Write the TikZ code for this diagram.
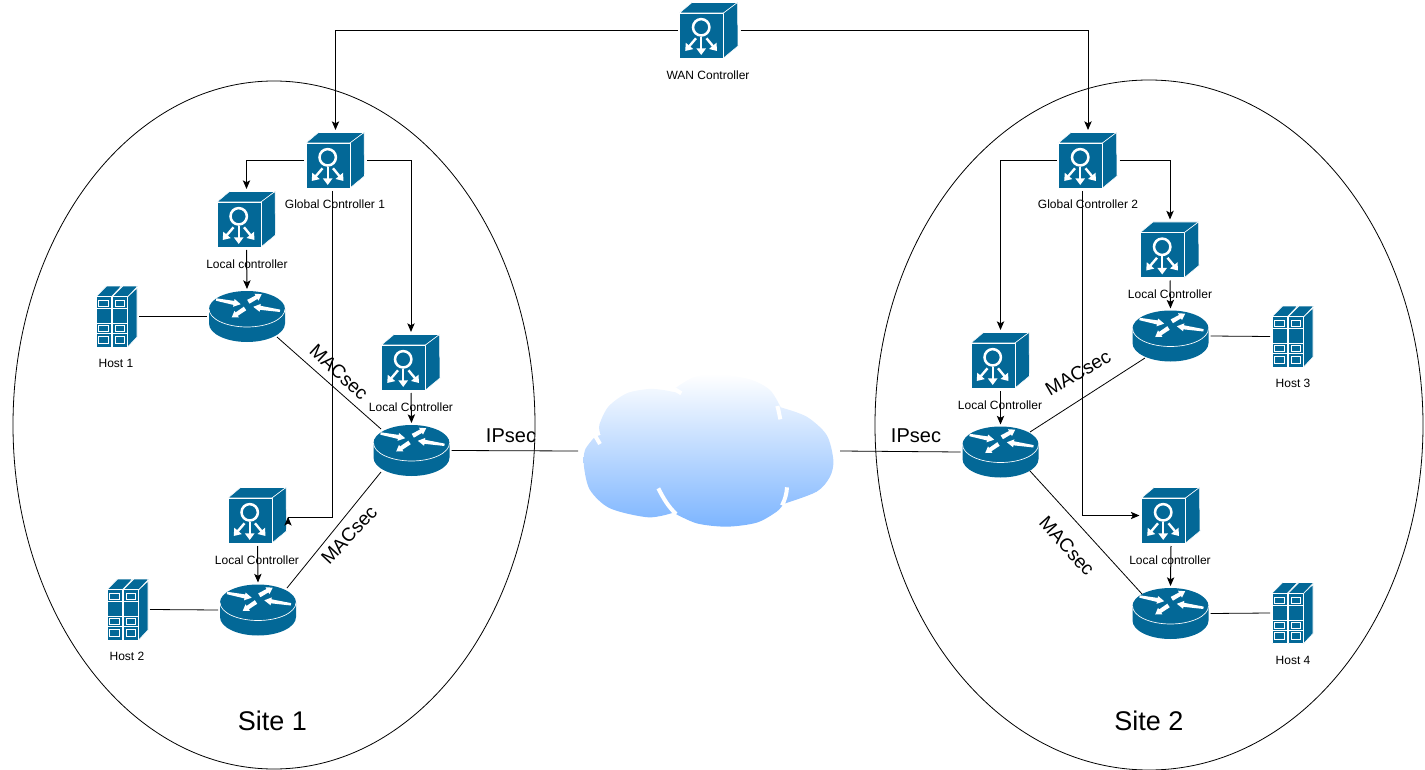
\documentclass[tikz,border=0pt]{standalone}
\usepackage{fontspec}
\setmainfont{Liberation Sans}
\usepackage{tikz}
\usetikzlibrary{calc,arrows.meta}

\definecolor{ciscoblue}{HTML}{036897}
\definecolor{cloudblue}{HTML}{7DB5FF}

\tikzset{
    link/.style={line width=0.75pt,-{Stealth[length=6.5pt,width=5.5pt,inset=1.5pt]}},
    wire/.style={line width=0.6pt},
    face/.style={fill=ciscoblue,draw=white,line width=0.4pt,line join=round},
    glyph/.style={draw=white,line width=1.8pt,-{Triangle[length=5pt,width=7pt]}},
    ctrlbox/.style={minimum width=44.25pt,minimum height=42.75pt,inner sep=0pt,outer sep=1.5pt},
    routerbox/.style={minimum width=57pt,minimum height=38.25pt,inner sep=0pt,outer sep=1.5pt},
    hostbox/.style={minimum width=30.75pt,minimum height=45.75pt,inner sep=0pt,outer sep=1.5pt},
    cloudbox/.style={minimum width=196.5pt,minimum height=114pt,inner sep=0pt,outer sep=0pt},
    small/.style={font=\fontsize{9}{11}\selectfont,inner sep=0pt},
    big/.style={font=\fontsize{15}{18}\selectfont,inner sep=0pt},
    maclabel/.style={font=\fontsize{14.25}{17}\selectfont,inner sep=0pt},
    sitename/.style={font=\fontsize{20.25}{24}\selectfont,inner sep=0pt}
}

% controller cube: name, position
\newcommand{\ctrlicon}[2]{
    \node[ctrlbox] (#1) at (#2) {};
    \begin{scope}[shift={(#2)}]
        \draw[face] (-29.5,-17.5) -- (-17,-28) -- (28.5,-28) -- (14.5,-17.5) -- cycle;
        \draw[face] (14.5,-17.5) -- (28.5,-28) -- (29,15.5) -- (14.5,27.5) -- cycle;
        \draw[face] (-29.5,-17.5) rectangle (14.5,27.5);
        \draw[white,line width=1.9pt] (-7.8,-3.2) circle (8.2);
        \draw[glyph] (-7.8,6.3) -- (-7.8,24.5);
        \draw[glyph] (-13,7.8) -- (-23.8,20.5);
        \draw[glyph] (-2.5,7.8) -- (8,20.5);
    \end{scope}
}

% router disc: name, position
\newcommand{\routericon}[2]{
    \node[routerbox] (#1) at (#2) {};
    \begin{scope}[shift={(#2)}]
        \fill[ciscoblue] (-38,-7.5) -- (-38,7) arc[start angle=180,end angle=0,x radius=38,y radius=18.5]
            -- (38,-7.5) arc[start angle=0,end angle=-180,x radius=38,y radius=18] -- cycle;
        \draw[white,line width=0.5pt] (-38,-7.5) arc[start angle=180,end angle=0,x radius=38,y radius=18];
        \fill[white] (-30.8,-18.2) -- (-12.8,-15.6) -- (-12.4,-17.5) -- (-6.3,-12.3) -- (-13.9,-9.7) -- (-13.6,-11.6) -- (-31.2,-15.8) -- cycle;
        \fill[white] (33.2,-6.9) -- (13.5,-10.7) -- (13.8,-12.6) -- (6.3,-9.7) -- (12.6,-4.7) -- (12.9,-6.7) -- (32.8,-4.5) -- cycle;
        \fill[white] (2.4,-12.8) -- (10.5,-17.6) -- (11.5,-15.8) -- (14.7,-22.3) -- (7.5,-22.8) -- (8.5,-21) -- (0.2,-16.6) -- cycle;
        \fill[white] (-0.8,-6.2) -- (-9.2,-0.7) -- (-8.1,0.9) -- (-15.3,1) -- (-12.5,-5.7) -- (-11.4,-4.1) -- (-3.2,-9.8) -- cycle;
    \end{scope}
}

% host rack: name, position
\newcommand{\hosticon}[2]{
    \node[hostbox] (#1) at (#2) {};
    \begin{scope}[shift={(#2)}]
        \draw[face] (11.1,-19.7) -- (20.5,-28.5) -- (20.5,20.5) -- (11.1,30.5) -- cycle;
        \foreach \dx in {0,16.3} {
            \begin{scope}[xshift=\dx*0.75pt]
                \draw[face] (-20.5,-19.7) -- (-9.8,-30.5) -- (5,-30.5) -- (-5.2,-19.7) -- cycle;
                \draw[face,line width=0.7pt] (-20.5,-19.7) rectangle (-5.2,30.5);
                \draw[white,line width=0.6pt] (-17.7,-15.7) rectangle (-8,-10);
                \draw[white,line width=0.6pt] (-17.7,9) rectangle (-8,15);
                \draw[white,line width=0.6pt] (-17.7,19.5) rectangle (-8,26.5);
                \draw[white,line width=0.6pt] (-20.5,-8) -- (-5.2,-8);
                \draw[white,line width=0.6pt] (-20.5,7) -- (-5.2,7);
                \draw[white,line width=0.6pt] (-20.5,17.3) -- (-5.2,17.3);
            \end{scope}
        }
    \end{scope}
}

\begin{document}
\begin{tikzpicture}[x=0.75pt,y=-0.75pt]
    \useasboundingbox (0,0) rectangle (1425,770);

    % sites
    \draw[line width=0.6pt] (274,425) ellipse [x radius=261,y radius=344];
    \draw[line width=0.6pt] (1149,425) ellipse [x radius=274,y radius=345];
    \node[sitename] (site1) at (272.5,721) {Site 1};
    \node[sitename] (site2) at (1149,721) {Site 2};

    % cloud
    \node[cloudbox] (cloud) at (709,451) {};
    \begin{scope}[shift={(570,360)},x=0.25pt,y=-0.25pt]
        \shade[top color=white,bottom color=cloudblue]
            plot[smooth] coordinates {(75,230) (45,270) (42,320) (60,390) (120,445) (235,472) (310,458)}
            -- plot[smooth] coordinates {(310,458) (380,490) (470,500) (560,488) (620,455) (640,432)}
            -- plot[smooth] coordinates {(640,432) (740,395) (780,350) (790,300) (770,225) (710,170) (632,142)}
            -- plot[smooth] coordinates {(632,142) (600,90) (540,58) (440,42) (370,52) (315,85)}
            -- plot[smooth] coordinates {(330,100) (280,90) (235,87) (170,100) (115,140) (88,195) (92,225)}
            -- cycle;
        \draw[white,line width=3pt] (76,228) -- (90,252);
        \draw[white,line width=3pt] (312,86) -- (334,100);
        \draw[white,line width=3pt] (631,178) .. controls (628,165) and (627,155) .. (622,138);
        \draw[white,line width=3pt] (265,385) .. controls (280,415) and (295,440) .. (318,462);
        \draw[white,line width=3pt] (651,382) .. controls (650,400) and (645,420) .. (636,436);
    \end{scope}

    % controllers
    \ctrlicon{wan}{709,30.5}
    \ctrlicon{gcone}{335.5,160.5}
    \ctrlicon{gctwo}{1088,160.5}
    \ctrlicon{lcone}{246.5,219.5}
    \ctrlicon{lctwo}{411,362.5}
    \ctrlicon{lcthree}{257.5,515.5}
    \ctrlicon{lcfour}{1170,250}
    \ctrlicon{lcfive}{1000.5,360.5}
    \ctrlicon{lcsix}{1171,515.5}

    % routers
    \routericon{rone}{247,316.5}
    \routericon{rtwo}{411.5,450.5}
    \routericon{rthree}{258,610}
    \routericon{rfour}{1000.5,452}
    \routericon{rfive}{1170.5,336}
    \routericon{rsix}{1170.5,613.5}

    % hosts
    \hosticon{hone}{116.5,316.5}
    \hosticon{htwo}{127.5,609.5}
    \hosticon{hthree}{1292.5,336.5}
    \hosticon{hfour}{1292.5,613}

    % small labels
    \node[small] (lblwan) at (708,75) {WAN Controller};
    \node[small] (lblgcone) at (335,204) {Global Controller 1};
    \node[small] (lblgctwo) at (1088,204) {Global Controller 2};
    \node[small] (lbllcone) at (247,264) {Local controller};
    \node[small] (lbllctwo) at (411,407) {Local Controller};
    \node[small] (lbllcthree) at (257,560) {Local Controller};
    \node[small] (lbllcfour) at (1170,294) {Local Controller};
    \node[small] (lbllcfive) at (1000,405) {Local Controller};
    \node[small] (lbllcsix) at (1170,560) {Local controller};
    \node[small] (lblhone) at (116,363) {Host 1};
    \node[small] (lblhtwo) at (127,656) {Host 2};
    \node[small] (lblhthree) at (1293,383) {Host 3};
    \node[small] (lblhfour) at (1293,660) {Host 4};

    % link labels
    \node[maclabel,rotate=-43] (macone) at (339,372) {MACsec};
    \node[maclabel,rotate=47] (mactwo) at (349,535) {MACsec};
    \node[maclabel,rotate=30] (macthree) at (1078,373) {MACsec};
    \node[maclabel,rotate=-48] (macfour) at (1067,546) {MACsec};
    \node[big] (ipone) at (511,436) {IPsec};
    \node[big] (iptwo) at (916,436) {IPsec};

    % control links
    \draw[link] (wan.west) -| (gcone.north);
    \draw[link] (wan.east) -| (gctwo.north);
    \draw[link] (gcone.west) -| (lcone.north);
    \draw[link] (gcone.east) -| (lctwo.north);
    \draw[link] (gctwo.west) -| (lcfive.north);
    \draw[link] (gctwo.east) -| (lcfour.north);
    \draw[link] ($(gcone.south)+(-3.5,0)$) |- ($(lcthree.east)+(-1,1.5)$) -- ++(0,-0.1);
    \draw[link] ($(gctwo.south)+(-6,0)$) |- (lcsix.west);
    \draw[link] (lcone.south) -- (rone.north);
    \draw[link] (lctwo.south) -- (rtwo.north);
    \draw[link] (lcthree.south) -- (rthree.north);
    \draw[link] (lcfour.south) -- (rfive.north);
    \draw[link] (lcfive.south) -- (rfour.north);
    \draw[link] (lcsix.south) -- (rsix.north);

    % data links
    \draw[wire] (hone.east) -- (rone.west);
    \draw[wire] (htwo.east) -- (rthree.west);
    \draw[wire] (rfive.east) -- (hthree.west);
    \draw[wire] (rsix.east) -- (hfour.west);
    \draw[wire] (rtwo.east) -- (cloud.west);
    \draw[wire] (cloud.east) -- (rfour.west);
    \draw[wire] ($(rone)+(30,20.5)$) -- ($(rtwo)+(-30.5,-21.5)$);
    \draw[wire] ($(rtwo)+(-30.5,21.5)$) -- ($(rthree)+(29,-22)$);
    \draw[wire] ($(rfour)+(29.5,-20)$) -- ($(rfive)+(-25.5,22)$);
    \draw[wire] ($(rfour)+(29.5,19)$) -- ($(rsix)+(-28.5,-19.5)$);
\end{tikzpicture}
\end{document}
